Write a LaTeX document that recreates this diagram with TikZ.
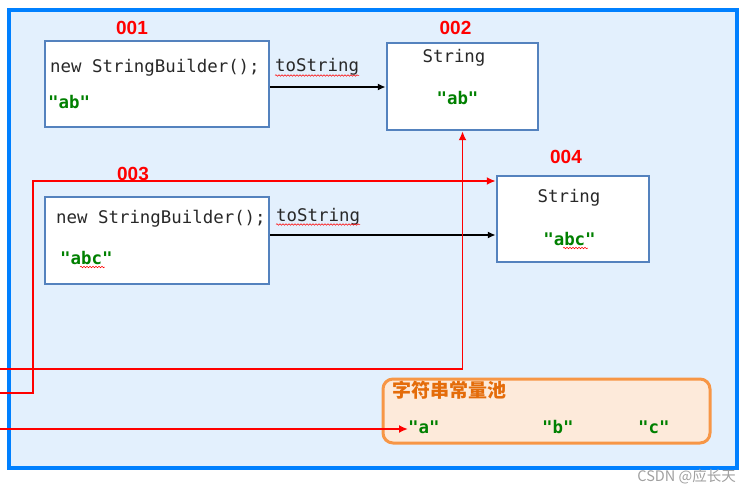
\documentclass[tikz,border=0pt]{standalone}
\usepackage{fontspec}
\setmainfont{Liberation Sans}
\newfontfamily\codefont{DejaVu Sans Mono}
\newfontfamily\cjkfont{Noto Sans CJK SC}
\usetikzlibrary{arrows.meta,decorations.pathmorphing}
\definecolor{framebg}{RGB}{227,240,253}
\definecolor{frameline}{RGB}{0,128,255}
\definecolor{boxline}{RGB}{84,130,190}
\definecolor{codegreen}{RGB}{0,128,0}
\definecolor{codegray}{RGB}{40,40,40}
\definecolor{poolfill}{RGB}{253,234,218}
\definecolor{poolline}{RGB}{247,150,70}
\definecolor{pooltext}{RGB}{228,108,10}
\definecolor{wmgray}{RGB}{160,160,160}
\tikzset{
  objbox/.style={draw=boxline, line width=2.5pt, fill=white, inner sep=0pt},
  codetxt/.style={font=\codefont\fontsize{17.4}{20}\selectfont, text=codegray, inner sep=0pt, anchor=base west},
  valtxt/.style={font=\codefont\bfseries\fontsize{17.4}{20}\selectfont, text=codegreen, inner sep=0pt, anchor=base west},
  addrtxt/.style={font=\bfseries\fontsize{19}{22}\selectfont, text=red, inner sep=0pt, anchor=base},
  callarrow/.style={draw=black, line width=2.6pt, -{Latex[length=8pt,width=7pt]}},
  refarrow/.style={draw=red, line width=1.9pt, -{Latex[length=9pt,width=8pt]}},
  wavy/.style={draw=red, line width=0.5pt, decorate, decoration={snake, amplitude=0.8pt, segment length=3pt}}
}
\begin{document}
\begin{tikzpicture}[x=1pt,y=-1pt]
\useasboundingbox (0,0) rectangle (752,492);
% outer frame
\node[draw=frameline, line width=4pt, fill=framebg, minimum width=728pt, minimum height=457.5pt, inner sep=0pt] (frame) at (373,239.25) {};
% boxes
\node[objbox, minimum width=224pt, minimum height=86pt] (b1) at (157,84) {};
\node[objbox, minimum width=151pt, minimum height=87pt] (b2) at (462.5,86.5) {};
\node[objbox, minimum width=224pt, minimum height=87pt] (b3) at (157,240.5) {};
\node[objbox, minimum width=152pt, minimum height=86pt] (b4) at (573,219) {};
\node[draw=poolline, line width=3pt, fill=poolfill, rounded corners=10pt, minimum width=327pt, minimum height=64pt, inner sep=0pt] (pool) at (546.5,411) {};
% labels
\node[addrtxt] (l1) at (132,35) {001};
\node[addrtxt] (l2) at (455.5,35) {002};
\node[addrtxt] (l3) at (133,180) {003};
\node[addrtxt] (l4) at (566,163) {004};
% box texts
\node[codetxt] (c1) at (50,72.5) {new StringBuilder();};
\node[valtxt] (v1) at (48,109) {"ab"};
\node[codetxt] (t1) at (275,72) {toString};
\node[codetxt, anchor=base] (s2) at (454,63) {String};
\node[valtxt, anchor=base] (v2) at (457.5,105) {"ab"};
\node[codetxt] (c3) at (56,223) {new StringBuilder();};
\node[valtxt] (v3) at (60,264) {"abc"};
\node[codetxt] (t2) at (276,221) {toString};
\node[codetxt, anchor=base] (s4) at (569,202) {String};
\node[valtxt, anchor=base] (v4) at (569.5,245) {"abc"};
% pool texts
\node[font=\cjkfont\bfseries\fontsize{19}{22}\selectfont, text=pooltext, anchor=base west, inner sep=0pt] (pt) at (392,397) {字符串常量池};
\node[valtxt] (pa) at (408,433) {"a"};
\node[valtxt] (pb) at (542,433) {"b"};
\node[valtxt] (pc) at (638,433) {"c"};
% watermark
\node[font=\cjkfont\fontsize{14.5}{16}\selectfont, text=wmgray, anchor=base east, inner sep=0pt] (wm) at (736,481) {CSDN @应长天};
% wavy underlines
\draw[wavy] ([yshift=-3.5pt]t1.base west) -- ([yshift=-3.5pt]t1.base east);
\draw[wavy] ([yshift=-3.5pt]t2.base west) -- ([yshift=-3.5pt]t2.base east);
\draw[wavy] ([xshift=20pt,yshift=-3pt]v3.base west) -- ([xshift=-8pt,yshift=-3pt]v3.base east);
\draw[wavy] ([xshift=20pt,yshift=-3pt]v4.base west) -- ([xshift=-8pt,yshift=-3pt]v4.base east);
% black arrows
\coordinate (a1s) at ([yshift=-3pt]b1.east);
\draw[callarrow] (a1s) -- (a1s -| b2.west);
\coordinate (a2s) at ([yshift=5.5pt]b3.east);
\draw[callarrow] (a2s) -- (a2s -| b4.west);
% red references
\coordinate (r1) at (0,393);
\coordinate (t4) at ([yshift=38pt]b4.west);
\draw[refarrow] (r1) -- ++(33,0) |- (t4);
\coordinate (r2) at (0,369);
\draw[refarrow] (r2) -| (b2.south);
\coordinate (r3) at (0,429);
\draw[refarrow] (r3) -- (r3 -| pa.west);
\end{tikzpicture}
\end{document}
